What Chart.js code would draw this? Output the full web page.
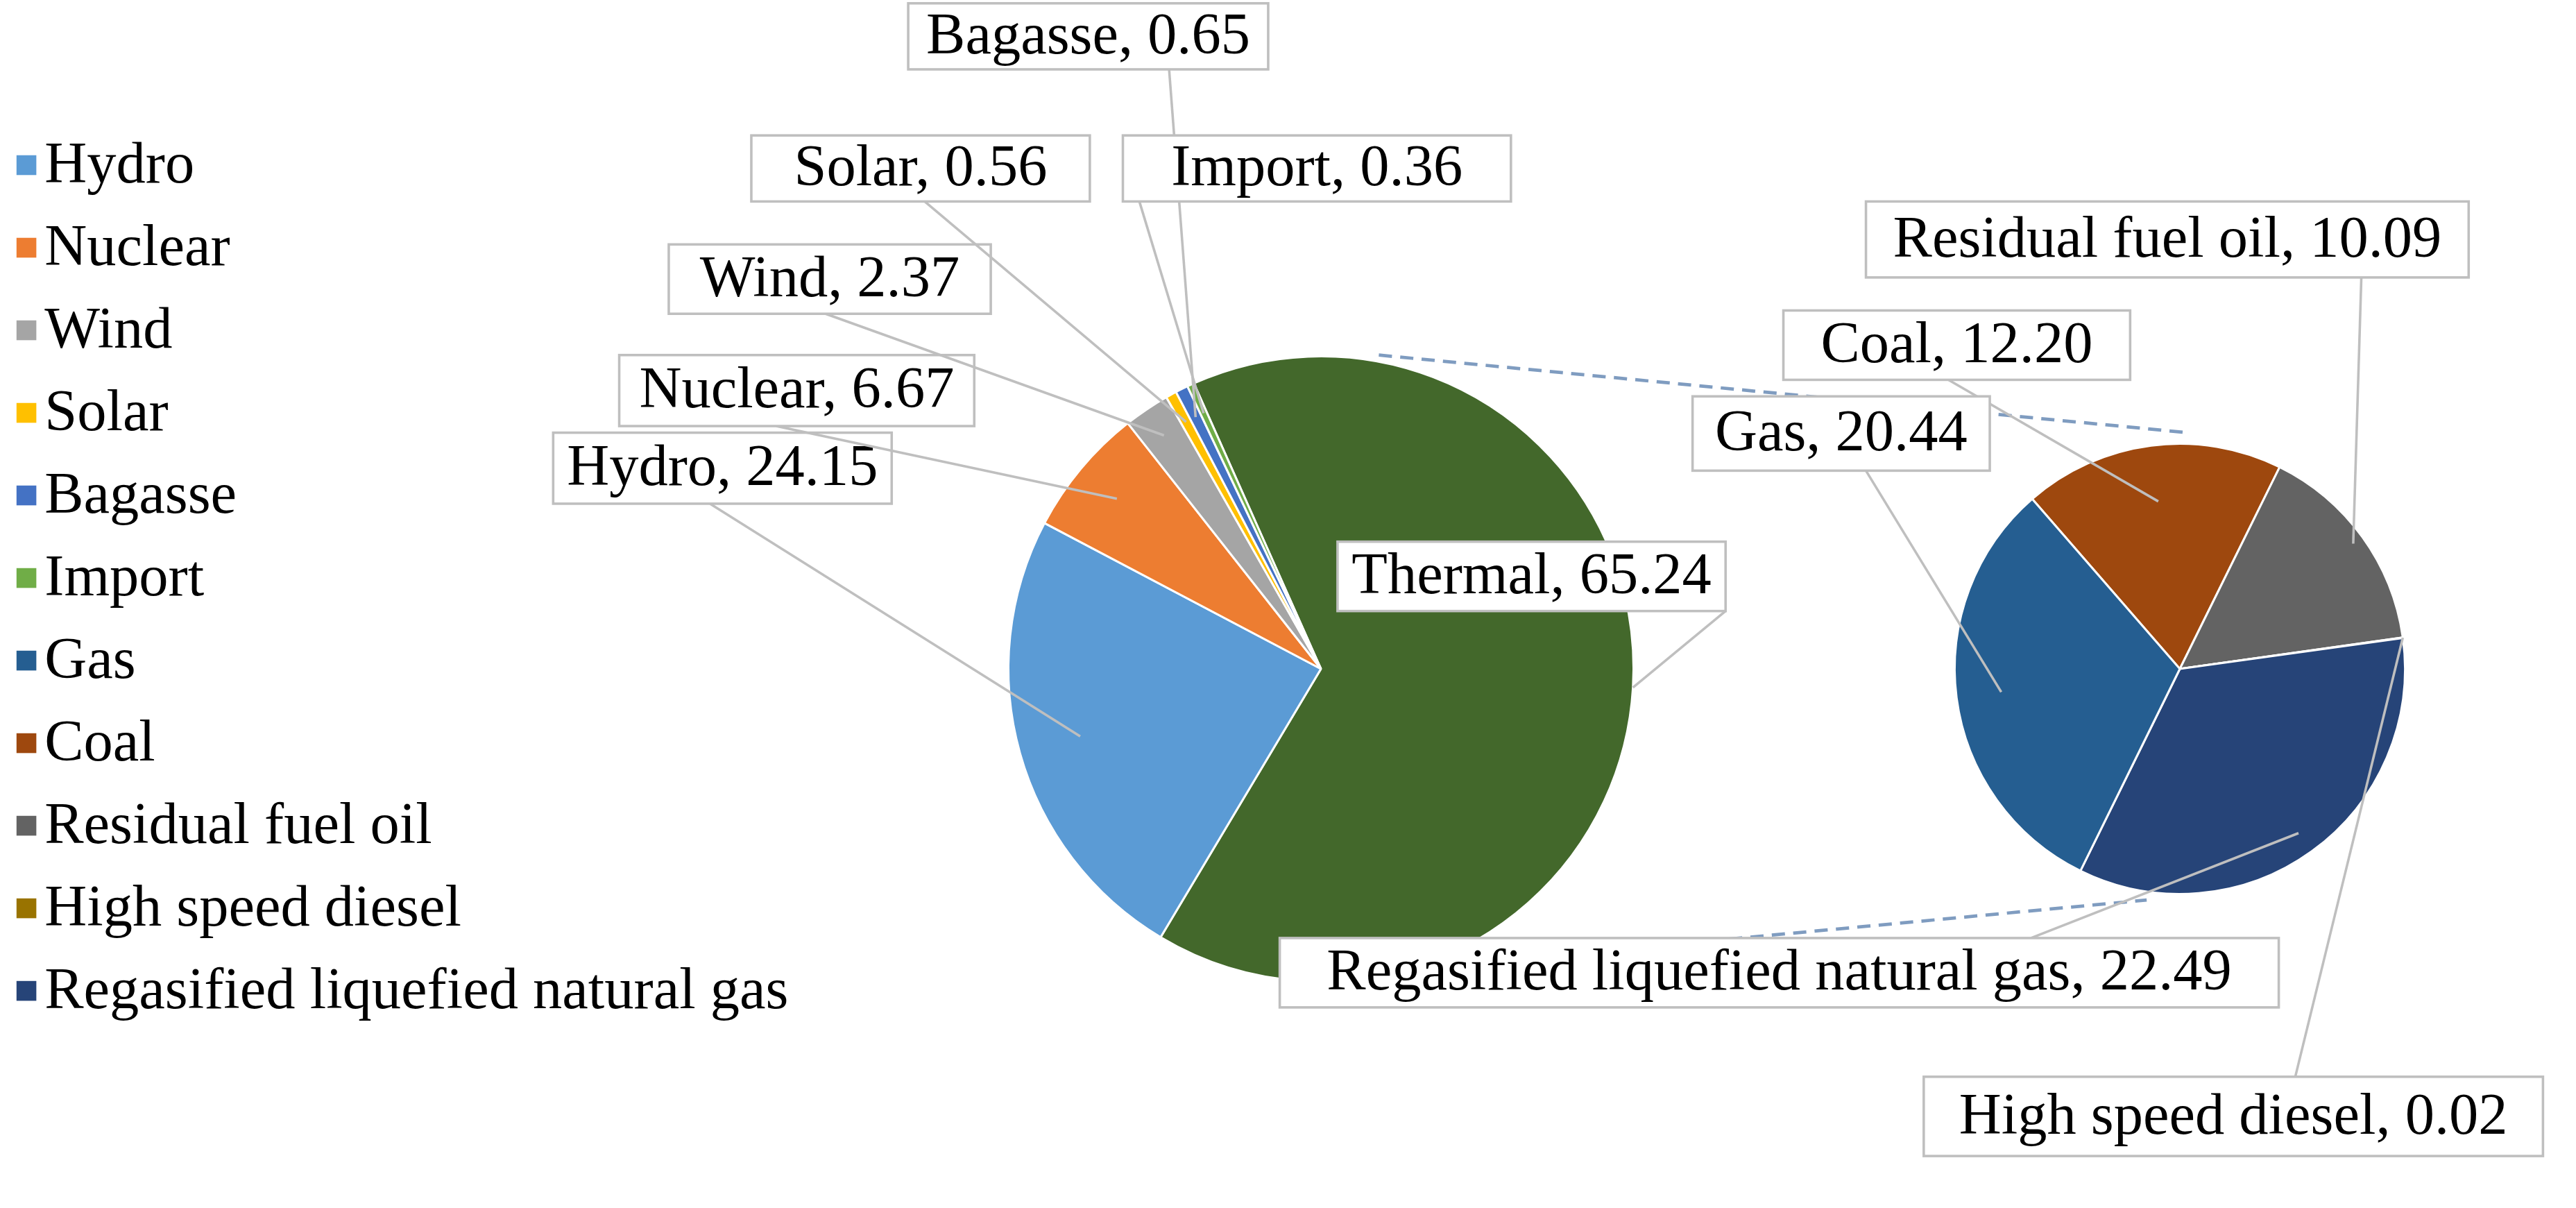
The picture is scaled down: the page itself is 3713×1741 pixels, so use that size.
<!DOCTYPE html>
<html><head><meta charset="utf-8">
<script src="https://cdn.jsdelivr.net/npm/chart.js@4"></script>
<style>html,body{margin:0;padding:0;background:#fff;overflow:hidden}canvas{position:absolute;left:0;top:0}</style>
</head><body>
<canvas id="c1" width="3713" height="1741"></canvas>
<canvas id="c2" width="3713" height="1741"></canvas>
<script>
const mainLabels = ["Thermal","Hydro","Nuclear","Wind","Solar","Bagasse","Import"];
const mainValues = [65.24,24.15,6.67,2.37,0.56,0.65,0.36];
const mainColors = ["#43682B","#5B9BD5","#ED7D31","#A5A5A5","#FFC000","#4472C4","#70AD47"];
const subLabels = ["Coal","Residual fuel oil","High speed diesel","Regasified liquefied natural gas","Gas"];
const subValues = [12.20,10.09,0.02,22.49,20.44];
const subColors = ["#9E480E","#636363","#997300","#264478","#255E91"];
const legendLabels = ["Hydro","Nuclear","Wind","Solar","Bagasse","Import","Gas","Coal","Residual fuel oil","High speed diesel","Regasified liquefied natural gas"];
const legendColors = ["#5B9BD5","#ED7D31","#A5A5A5","#FFC000","#4472C4","#70AD47","#255E91","#9E480E","#636363","#997300","#264478"];

const S = 3713/1560;
const FONT = (35.5*S)+"px 'Liberation Serif','Times New Roman',serif";
const mainCallouts = {
  "Thermal":[810,328,1045,370,1045,370],
  "Hydro":[335,262,540,305,430,305],
  "Nuclear":[375,215,590,258,470,258],
  "Wind":[405,148,600,190,500,190],
  "Solar":[455,82,660,122,560,122],
  "Bagasse":[550,2,768,42,708,42],
  "Import":[680,82,915,122,690,122]
};
const subCallouts = {
  "Residual fuel oil":[1130,122,1495,168,1430,168],
  "Coal":[1080,188,1290,230,1180,230],
  "Gas":[1025,240,1205,285,1130,285],
  "Regasified liquefied natural gas":[775,568,1380,610,1230,568],
  "High speed diesel":[1165,652,1540,700,1390,652]
};
const leaderFrac = {"Thermal":1.0,"Hydro":0.8,"Nuclear":0.85,"Wind":0.9,"Solar":0.9,"Bagasse":0.9,"Import":0.9,
  "Residual fuel oil":0.95,"Coal":0.75,"Gas":0.8,"Regasified liquefied natural gas":0.9,"High speed diesel":1.0};

function drawCallouts(chart, map){
  const ctx=chart.ctx, meta=chart.getDatasetMeta(0), labels=chart.data.labels, vals=chart.data.datasets[0].data;
  ctx.save();
  meta.data.forEach((arc,i)=>{
    const c=map[labels[i]]; if(!c) return;
    const p=arc.getProps(['x','y','startAngle','endAngle','outerRadius'],true);
    const a=(p.startAngle+p.endAngle)/2, r=p.outerRadius*leaderFrac[labels[i]];
    ctx.strokeStyle="#BFBFBF"; ctx.lineWidth=1.5*S;
    ctx.beginPath(); ctx.moveTo(c[4]*S,c[5]*S); ctx.lineTo(p.x+Math.cos(a)*r,p.y+Math.sin(a)*r); ctx.stroke();
    ctx.fillStyle="#fff"; ctx.fillRect(c[0]*S,c[1]*S,(c[2]-c[0])*S,(c[3]-c[1])*S);
    ctx.strokeRect(c[0]*S,c[1]*S,(c[2]-c[0])*S,(c[3]-c[1])*S);
    ctx.fillStyle="#000"; ctx.font=FONT; ctx.textAlign="center"; ctx.textBaseline="middle";
    ctx.fillText(labels[i]+", "+vals[i].toFixed(2),(c[0]+c[2])/2*S,(c[1]+c[3])/2*S+S);
  });
  ctx.restore();
}
Chart.defaults.animation=false;
const common={responsive:false,devicePixelRatio:1,plugins:{legend:{display:false},tooltip:{enabled:false}}};
const c1=new Chart(document.getElementById('c1'),{type:'pie',
  data:{labels:mainLabels,datasets:[{data:mainValues,backgroundColor:mainColors,borderColor:'#fff',borderWidth:3}]},
  options:{...common,rotation:-24,layout:{padding:{left:1452,right:1357,top:512,bottom:325}}},
  plugins:[{id:'legendAndLabels',afterDraw(ch){
    const ctx=ch.ctx; ctx.save(); ctx.font=FONT; ctx.textBaseline="middle"; ctx.textAlign="left";
    legendLabels.forEach((l,i)=>{const y=(100+50*i)*S; ctx.fillStyle=legendColors[i];
      ctx.fillRect(10*S,y-6*S,12*S,12*S); ctx.fillStyle="#000"; ctx.fillText(l,27*S,y+S);});
    ctx.restore();
  }}]});
const c2=new Chart(document.getElementById('c2'),{type:'pie',
  data:{labels:subLabels,datasets:[{data:subValues,backgroundColor:subColors,borderColor:'#fff',borderWidth:3}]},
  options:{...common,rotation:-41,layout:{padding:{left:2816,right:245,top:638,bottom:451}}},
  plugins:[{id:'conn',beforeDraw(ch){
    const ctx=ch.ctx; ctx.save(); ctx.strokeStyle="#7F9CC0"; ctx.lineWidth=2*S; ctx.setLineDash([8*S,5*S]);
    ctx.beginPath(); ctx.moveTo(835*S,215*S); ctx.lineTo(1325*S,262*S);
    ctx.moveTo(840*S,588*S); ctx.lineTo(1300*S,545*S); ctx.stroke(); ctx.restore();
  },afterDraw(ch){drawCallouts(c1,mainCallouts);drawCallouts(ch,subCallouts);}}]});
</script></body></html>
